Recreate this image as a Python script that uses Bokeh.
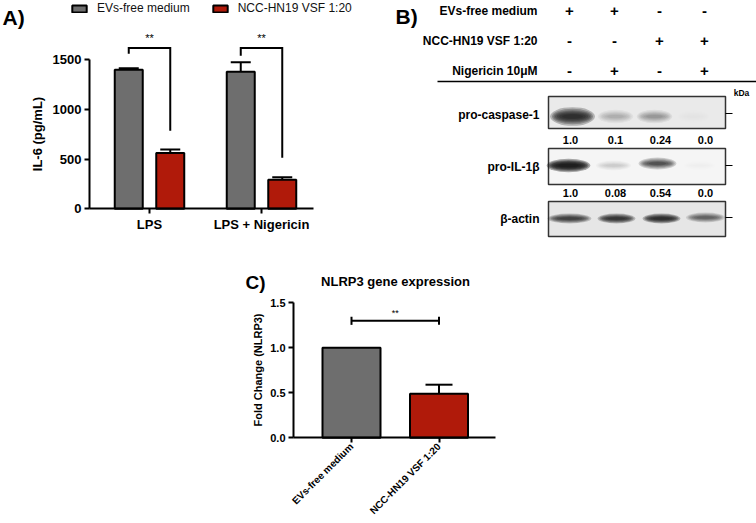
import math
from bokeh.plotting import figure
from bokeh.models import (Range1d, FixedTicker, Whisker, TeeHead, Label, Legend,
                          LegendItem, ColumnDataSource, PrintfTickFormatter, LinearAxis)
from bokeh.embed import file_html
from bokeh.resources import INLINE
from bokeh.core.properties import value

FONT = "Liberation Sans"
GRAY = "#6e6e6e"
RED = "#b01a0a"

# ---------------- Panel A data ----------------
a_groups = ["LPS", "LPS + Nigericin"]
a_series = ["EVs-free medium", "NCC-HN19 VSF 1:20"]
a_evs = [1400, 1380]
a_evs_err = [15, 95]
a_ncc = [562, 292]
a_ncc_err = [35, 25]
a_sig_top = [1620, 1620]
a_sig_left_end = [1560, 1540]
a_sig_right_end = [785, 515]
a_sig_text = ["**", "**"]
a_yticks = [0, 500, 1000, 1500]

# ---------------- Panel B data ----------------
b_conditions = ["EVs-free medium", "NCC-HN19 VSF 1:20", "Nigericin 10μM"]
b_signs = [["+", "+", "-", "-"],
           ["-", "-", "+", "+"],
           ["-", "+", "-", "+"]]
b_proteins = ["pro-caspase-1", "pro-IL-1β", "β-actin"]
b_quant = [["1.0", "0.1", "0.24", "0.0"],
           ["1.0", "0.08", "0.54", "0.0"]]
b_band_density = [[0.88, 0.26, 0.36, 0.04],
                  [0.95, 0.15, 0.72, 0.04],
                  [0.78, 0.84, 0.88, 0.62]]

# ---------------- Panel C data ----------------
c_groups = ["EVs-free medium", "NCC-HN19 VSF 1:20"]
c_fold = [1.0, 0.49]
c_err = [0.0, 0.10]
c_sig_y = 1.30
c_sig_text = "**"
c_yticks = [0, 0.5, 1.0, 1.5]

W, H = 756, 523


def mapped_range(v_a, px_a, v_b, px_b, px_start, px_end):
    k = (v_b - v_a) / (px_b - px_a)
    return Range1d(start=v_a + (px_start - px_a) * k, end=v_a + (px_end - px_a) * k)


p = figure(width=W, height=H, x_range=Range1d(0, W), y_range=Range1d(H, 0),
           output_backend="svg", toolbar_location=None, min_border=0,
           x_axis_type=None, y_axis_type=None, outline_line_color=None)
p.grid.visible = False

# panel placements (pixels)
A_C0, A_C1, A_L, A_R, A_Y0, A_Y1500 = 149.0, 261.0, 89.0, 313.0, 208.3, 59.3
C_C0, C_C1, C_L, C_R, C_Y0, C_Y15 = 351.0, 438.5, 293.0, 495.0, 437.3, 302.3

p.extra_x_ranges = {"ax": mapped_range(0, A_C0, 1, A_C1, 0, W),
                    "cx": mapped_range(0, C_C0, 1, C_C1, 0, W)}
p.extra_y_ranges = {"ay": mapped_range(0, A_Y0, 1500, A_Y1500, H, 0),
                    "cy": mapped_range(0, C_Y0, 1.5, C_Y15, H, 0)}
a_k = 1.0 / (A_C1 - A_C0)
c_k = 1.0 / (C_C1 - C_C0)
a_left, a_right = (A_L - A_C0) * a_k, (A_R - A_C0) * a_k
c_left, c_right = (C_L - C_C0) * c_k, (C_R - C_C0) * c_k


def style_axis(ax, tick_fs, label_fs):
    ax.axis_line_width = 2
    ax.axis_line_color = "black"
    ax.major_tick_line_width = 2
    ax.major_tick_line_color = "black"
    ax.major_tick_out = 5
    ax.major_tick_in = 0
    ax.minor_tick_line_color = None
    ax.major_label_text_font = FONT
    ax.major_label_text_font_style = "bold"
    ax.major_label_text_font_size = tick_fs
    ax.major_label_text_color = "black"
    ax.axis_label_text_font = FONT
    ax.axis_label_text_font_style = "bold"
    ax.axis_label_text_font_size = label_fs
    ax.axis_label_text_color = "black"
    ax.major_label_standoff = 3


# ================= Panel A =================
off, bw = 20.75 * a_k, 28 * a_k
xa_evs = [i - off for i in range(len(a_groups))]
xa_ncc = [i + off for i in range(len(a_groups))]
RA = dict(x_range_name="ax", y_range_name="ay")
rg = p.vbar(x=xa_evs, top=a_evs, width=bw, fill_color=GRAY, line_color="black", line_width=2, **RA)
rr = p.vbar(x=xa_ncc, top=a_ncc, width=bw, fill_color=RED, line_color="black", line_width=2, **RA)
for xs, tops, errs in ((xa_evs, a_evs, a_evs_err), (xa_ncc, a_ncc, a_ncc_err)):
    src = ColumnDataSource(dict(x=xs, lo=tops, hi=[t + e for t, e in zip(tops, errs)]))
    p.add_layout(Whisker(base="x", lower="lo", upper="hi", source=src, line_width=2,
                         line_color="black", lower_head=None, level="overlay",
                         upper_head=TeeHead(size=20, line_width=2, line_color="black"), **RA))
p.multi_line(xs=[[xl, xl, xr, xr] for xl, xr in zip(xa_evs, xa_ncc)],
             ys=[[le, t, t, re] for le, t, re in zip(a_sig_left_end, a_sig_top, a_sig_right_end)],
             line_color="black", line_width=2, line_join="miter", **RA)
p.text(x=list(range(len(a_groups))), y=[t + 100 for t in a_sig_top], text=a_sig_text,
       text_align="center", text_baseline="middle", text_font=value(FONT),
       text_font_size="11px", text_color="black", **RA)
axAy = LinearAxis(fixed_location=a_left, bounds=(0, 1500), ticker=FixedTicker(ticks=a_yticks),
                  axis_label="IL-6 (pg/mL)", **RA)
style_axis(axAy, "13px", "13px")
axAy.axis_label_standoff = 5
p.add_layout(axAy, "left")
axAx = LinearAxis(fixed_location=0, bounds=(a_left, a_right),
                  ticker=FixedTicker(ticks=list(range(len(a_groups)))),
                  major_label_overrides={i: g for i, g in enumerate(a_groups)}, **RA)
style_axis(axAx, "13px", "13px")
p.add_layout(axAx, "below")
legA = Legend(items=[LegendItem(label=a_series[0], renderers=[rg]),
                     LegendItem(label=a_series[1], renderers=[rr])],
              orientation="horizontal", location=(70, H - 15), padding=0, margin=0,
              spacing=21, label_standoff=9, glyph_width=18, glyph_height=9,
              label_height=14, label_text_font_size="12px", label_text_font=FONT,
              label_text_color="#111111",
              border_line_color=None, background_fill_alpha=0)
p.add_layout(legA)
p.add_layout(Label(x=2, y=17, text="A)", text_font=FONT, text_font_style="bold",
                   text_color="black", text_font_size="21px", text_baseline="middle",
                   text_align="left"))

# ================= Panel B =================
lane_x = [569 + 45 * i for i in range(4)]
row_y = [10 + 30 * i for i in range(len(b_conditions))]
p.text(x=[537] * len(b_conditions), y=row_y, text=b_conditions, text_align="right",
       text_baseline="middle", text_font=value(FONT), text_font_style="bold",
       text_font_size="12px", text_color="black")
sx, sy, st = [], [], []
for r, signs in enumerate(b_signs):
    for l, s in enumerate(signs):
        sx.append(lane_x[l]); sy.append(row_y[r]); st.append(s)
p.text(x=sx, y=sy, text=st, text_align="center", text_baseline="middle",
       text_font=value(FONT), text_font_style="bold", text_font_size="15px", text_color="black")
p.segment(x0=[437], y0=[81], x1=[756], y1=[81], line_color="black", line_width=1.5)
box_top = [96, 148, 201]
box_h = [32, 36, 35]
box_fill = ["#eaeaea", "#f5f5f5", "#e6e6e6"]
p.quad(left=[548] * 3, right=[725] * 3, top=box_top,
       bottom=[t + h for t, h in zip(box_top, box_h)], fill_color=box_fill,
       line_color="#333333", line_width=1.5)
band_dx = [[3, 1, -5, -11], [-1, -1, -2, -5], [0, 2, 2, 1]]
band_cy = [[116, 116, 116, 116], [165, 165, 163, 165], [218, 218, 218, 217]]
band_w = [[38, 30, 30, 28], [37, 30, 32, 28], [37, 32, 32, 33]]
band_h = [[11, 8, 8, 8], [8, 6, 7, 6], [6, 6, 6, 6]]
layers = [(1.18, 1.7), (1.08, 1.4), (1.0, 1.15), (0.92, 0.95), (0.82, 0.75),
          (0.7, 0.55), (0.55, 0.4)]
ex, ey, ew, eh, ea = [], [], [], [], []
for b in range(3):
    for l in range(4):
        d = b_band_density[b][l]
        a = 1 - (1 - d) ** (1.0 / len(layers))
        for fw, fh in layers:
            ex.append(lane_x[l] + band_dx[b][l]); ey.append(band_cy[b][l])
            ew.append(band_w[b][l] * fw); eh.append(band_h[b][l] * fh); ea.append(a)
p.ellipse(x=ex, y=ey, width=ew, height=eh, fill_color="#151515", fill_alpha=ea, line_color=None)
p.text(x=[539] * 3, y=[114, 166, 218], text=b_proteins,
       text_align="right", text_baseline="middle", text_font=value(FONT),
       text_font_style="bold", text_font_size="12px", text_color="black")
qx, qy, qt = [], [], []
for r, qs in enumerate(b_quant):
    for l, q in enumerate(qs):
        qx.append(lane_x[l] + 1); qy.append([139, 192][r]); qt.append(q)
p.text(x=qx, y=qy, text=qt, text_align="center", text_baseline="middle",
       text_font=value(FONT), text_font_style="bold", text_font_size="11px", text_color="black")
p.segment(x0=[725] * 3, x1=[732] * 3, y0=[113, 165, 217], y1=[113, 165, 217],
          line_color="black", line_width=1)
p.text(x=[741], y=[92], text=["kDa"], text_align="center", text_baseline="middle",
       text_font=value(FONT), text_font_style="bold", text_font_size="8.5px", text_color="black")
p.text(x=[395], y=[16], text=["B)"], text_align="left", text_baseline="middle",
       text_font=value(FONT), text_font_style="bold", text_font_size="21px", text_color="black")

# ================= Panel C =================
RC = dict(x_range_name="cx", y_range_name="cy")
xc = list(range(len(c_groups)))
p.vbar(x=xc, top=c_fold, width=58 * c_k, fill_color=[GRAY, RED], line_color="black",
       line_width=2, **RC)
we = [(x, f, e) for x, f, e in zip(xc, c_fold, c_err) if e > 0]
srcC = ColumnDataSource(dict(x=[w[0] for w in we], lo=[w[1] for w in we],
                             hi=[w[1] + w[2] for w in we]))
p.add_layout(Whisker(base="x", lower="lo", upper="hi", source=srcC, line_width=2,
                     line_color="black", lower_head=None, level="overlay",
                     upper_head=TeeHead(size=27, line_width=2, line_color="black"), **RC))
p.segment(x0=[xc[0], xc[0], xc[1]], x1=[xc[1], xc[0], xc[1]],
          y0=[c_sig_y, c_sig_y - 0.045, c_sig_y - 0.045],
          y1=[c_sig_y, c_sig_y + 0.045, c_sig_y + 0.045], line_color="black", line_width=2, **RC)
p.text(x=[0.5], y=[c_sig_y + 0.09], text=[c_sig_text], text_align="center",
       text_baseline="middle", text_font=value(FONT), text_font_size="9px",
       text_color="black", **RC)
axCy = LinearAxis(fixed_location=c_left, bounds=(0, 1.5), ticker=FixedTicker(ticks=c_yticks),
                  formatter=PrintfTickFormatter(format="%.1f"),
                  axis_label="Fold Change (NLRP3)", **RC)
style_axis(axCy, "11px", "11px")
axCy.axis_label_standoff = 3
p.add_layout(axCy, "left")
axCx = LinearAxis(fixed_location=0, bounds=(c_left, c_right), ticker=FixedTicker(ticks=xc),
                  major_label_overrides={i: g for i, g in enumerate(c_groups)},
                  major_label_orientation=math.pi / 4, **RC)
style_axis(axCx, "10px", "10px")
axCx.major_label_standoff = 2
p.add_layout(axCx, "below")
p.add_layout(Label(x=395, y=281, text="NLRP3 gene expression", text_font=FONT,
                   text_font_style="bold", text_font_size="13px", text_align="center",
                   text_color="black", text_baseline="middle"))
p.add_layout(Label(x=255, y=282, text="C)", text_font=FONT, text_font_style="bold",
                   text_font_size="19px", text_align="center", text_color="black",
                   text_baseline="middle"))

open("out.html", "w").write(file_html(p, INLINE))
